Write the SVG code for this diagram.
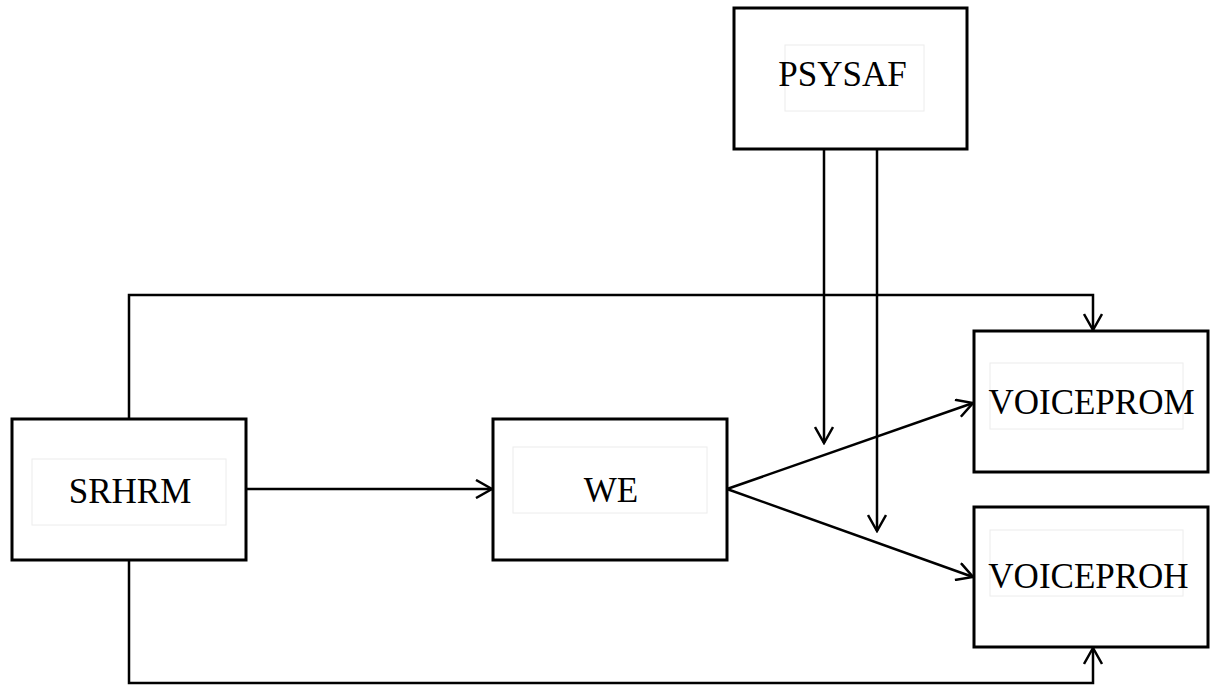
<svg xmlns="http://www.w3.org/2000/svg" width="1210" height="685" viewBox="0 0 1210 685">
<style>
.box{fill:#fff;stroke:#000;stroke-width:3}
.inner{fill:#fff;stroke:#ececec;stroke-width:1}
.lbl{font-family:"Liberation Serif","Times New Roman",serif;font-size:35px;fill:#000;text-anchor:middle}
.edge{fill:none;stroke:#000;stroke-width:2.5}
</style>
<defs>
<marker id="arr" viewBox="0 0 20 20" refX="18" refY="10" markerWidth="20" markerHeight="20" markerUnits="userSpaceOnUse" orient="auto">
<path d="M2,1 L18,10 L2,19" fill="none" stroke="#000" stroke-width="2.5"/>
</marker>
</defs>
<g id="connectors">
<path class="edge" d="M129,419 V295 H1093 V330" marker-end="url(#arr)"/>
<path class="edge" d="M129,560 V683 H1093 V648" marker-end="url(#arr)"/>
<path class="edge" d="M246,489 H492" marker-end="url(#arr)"/>
<path class="edge" d="M727,489 L973,403" marker-end="url(#arr)"/>
<path class="edge" d="M727,489 L973,577" marker-end="url(#arr)"/>
<path class="edge" d="M824,149 V443" marker-end="url(#arr)"/>
<path class="edge" d="M877,149 V531" marker-end="url(#arr)"/>
</g>
<g id="PSYSAF">
<rect class="box" x="734" y="8" width="233" height="141"/>
<rect class="inner" x="785" y="45" width="139" height="66"/>
<text class="lbl" x="842.5" y="86">PSYSAF</text>
</g>
<g id="SRHRM">
<rect class="box" x="12" y="419" width="234" height="141"/>
<rect class="inner" x="32" y="459" width="194" height="66"/>
<text class="lbl" x="130" y="503">SRHRM</text>
</g>
<g id="WE">
<rect class="box" x="493" y="419" width="234" height="141"/>
<rect class="inner" x="513" y="447" width="194" height="66"/>
<text class="lbl" x="611" y="502">WE</text>
</g>
<g id="VOICEPROM">
<rect class="box" x="974" y="331" width="234" height="141"/>
<rect class="inner" x="990" y="363" width="193" height="66"/>
<text class="lbl" x="1091.5" y="414">VOICEPROM</text>
</g>
<g id="VOICEPROH">
<rect class="box" x="974" y="507" width="234" height="140"/>
<rect class="inner" x="990" y="530" width="193" height="66"/>
<text class="lbl" x="1088.5" y="588">VOICEPROH</text>
</g>
</svg>
